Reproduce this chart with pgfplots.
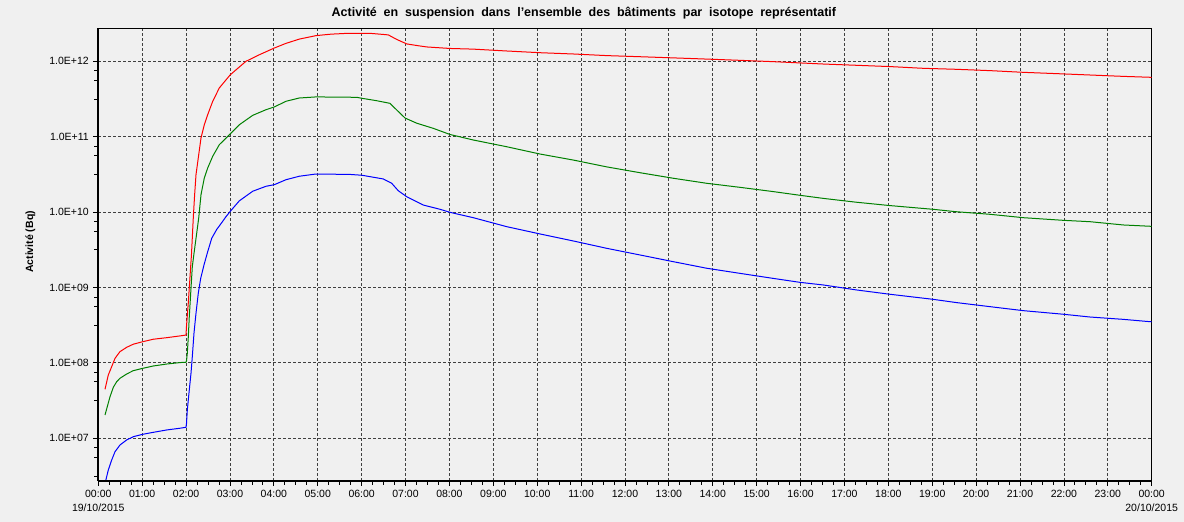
\documentclass[border=0pt]{standalone}
\usepackage{fontspec}
\setmainfont{Liberation Sans}
\usepackage{pgfplots}
\pgfplotsset{compat=1.18}
\usepackage{pgfplotstable}

\definecolor{fond}{HTML}{F0F0F0}
\definecolor{grille}{HTML}{404040}
\definecolor{rouge}{HTML}{FF0000}
\definecolor{vert}{HTML}{008000}
\definecolor{bleu}{HTML}{0000FF}

% t (heures depuis 19/10/2015 00:00), activite (Bq)
\pgfplotstableread{
t v
0.153 4.47e7
0.228 6.92e7
0.305 8.91e7
0.381 1.15e8
0.494 1.41e8
0.647 1.61e8
0.797 1.77e8
1.012 1.91e8
1.253 2.06e8
1.558 2.16e8
1.861 2.28e8
1.998 2.34e8
2.010 3.09e8
2.051 6.31e8
2.096 1.58e9
2.124 2.82e9
2.164 8.36e9
2.195 1.70e10
2.226 3.13e10
2.288 5.77e10
2.340 9.62e10
2.415 1.44e11
2.493 1.96e11
2.607 2.95e11
2.757 4.43e11
3.008 6.64e11
3.365 1.00e12
3.668 1.22e12
4.010 1.50e12
4.277 1.73e12
4.580 1.97e12
4.960 2.19e12
5.300 2.29e12
5.621 2.34e12
6.229 2.34e12
6.607 2.24e12
6.799 1.95e12
7.027 1.70e12
7.255 1.62e12
7.482 1.55e12
8.013 1.48e12
8.544 1.45e12
9.305 1.37e12
10.064 1.30e12
10.823 1.25e12
11.583 1.19e12
12.342 1.15e12
13.101 1.11e12
13.862 1.07e12
14.621 1.03e12
15.379 9.89e11
16.519 9.20e11
17.280 8.85e11
18.038 8.51e11
18.797 8.07e11
19.558 7.83e11
20.317 7.52e11
21.075 7.14e11
21.836 6.86e11
22.595 6.58e11
23.354 6.31e11
23.962 6.14e11
24.000 6.12e11
}\rouget

\pgfplotstableread{
t v
0.153 2.04e7
0.267 3.56e7
0.342 4.74e7
0.419 5.64e7
0.494 6.25e7
0.647 7.13e7
0.797 7.89e7
1.012 8.47e7
1.253 9.10e7
1.558 9.66e7
1.861 1.01e8
1.998 1.02e8
2.010 1.07e8
2.028 1.34e8
2.051 2.23e8
2.073 4.10e8
2.096 6.82e8
2.119 1.14e9
2.142 1.89e9
2.180 2.82e9
2.242 5.25e9
2.288 8.36e9
2.340 1.70e10
2.415 2.83e10
2.493 3.85e10
2.607 5.50e10
2.757 7.83e10
3.008 1.09e11
3.213 1.44e11
3.518 1.92e11
3.821 2.28e11
4.010 2.48e11
4.277 2.95e11
4.580 3.26e11
4.960 3.37e11
5.887 3.33e11
6.008 3.23e11
6.343 3.00e11
6.646 2.77e11
6.760 2.38e11
6.988 1.77e11
7.255 1.51e11
7.633 1.29e11
8.013 1.07e11
8.544 9.04e10
9.305 7.36e10
10.064 5.89e10
10.823 4.90e10
11.583 3.98e10
12.342 3.33e10
13.101 2.81e10
13.862 2.41e10
14.621 2.13e10
15.379 1.87e10
15.988 1.67e10
16.519 1.52e10
17.280 1.35e10
18.038 1.22e10
19.011 1.09e10
19.558 1.01e10
20.317 9.35e9
21.075 8.43e9
21.985 7.78e9
22.595 7.46e9
23.354 6.75e9
23.962 6.49e9
24.000 6.46e9
}\vertt

\pgfplotstableread{
t v
0.153 2.51e6
0.228 3.80e6
0.305 5.15e6
0.381 6.64e6
0.494 8.15e6
0.647 9.51e6
0.797 1.05e7
1.012 1.13e7
1.253 1.20e7
1.558 1.29e7
1.861 1.36e7
1.998 1.40e7
2.010 1.58e7
2.028 2.37e7
2.073 4.38e7
2.112 7.28e7
2.142 1.21e8
2.180 2.47e8
2.226 4.55e8
2.278 8.38e8
2.333 1.32e9
2.408 1.99e9
2.490 2.95e9
2.584 4.49e9
2.698 5.89e9
2.812 7.24e9
2.910 8.71e9
3.023 1.05e10
3.213 1.41e10
3.518 1.89e10
3.821 2.20e10
4.010 2.31e10
4.277 2.69e10
4.580 2.99e10
4.960 3.20e10
5.735 3.16e10
6.008 3.08e10
6.494 2.75e10
6.685 2.41e10
6.835 1.92e10
7.027 1.60e10
7.405 1.24e10
7.785 1.09e10
8.013 9.93e9
8.544 8.43e9
9.305 6.41e9
10.064 5.13e9
10.823 4.14e9
11.583 3.31e9
12.342 2.70e9
13.101 2.20e9
13.862 1.80e9
14.621 1.54e9
15.379 1.32e9
15.988 1.17e9
16.519 1.08e9
17.280 9.27e8
18.038 8.13e8
19.011 6.98e8
19.558 6.30e8
20.317 5.57e8
21.075 4.93e8
21.985 4.42e8
22.595 4.06e8
23.354 3.78e8
23.962 3.52e8
24.000 3.51e8
}\bleut

\begin{document}
\begin{tikzpicture}
\path[use as bounding box, fill=fond] (-98.3bp,-41bp) rectangle (1085.7bp,481bp);
\begin{axis}[
  at={(0,0)}, anchor=south west,
  scale only axis, width=1053.4bp, height=452.7bp,
  ymode=log,
  xmin=0, xmax=24,
  ymin=2.715e6, ymax=2.74e12,
  axis background/.style={fill=fond},
  axis line style={black, line width=1bp},
  tick align=outside, tick pos=left,
  xtick={0,1,...,24},
  xticklabels={{00:00\\19/10/2015},01:00,02:00,03:00,04:00,05:00,06:00,07:00,08:00,09:00,10:00,11:00,12:00,13:00,14:00,15:00,16:00,17:00,18:00,19:00,20:00,21:00,22:00,23:00,{00:00\\20/10/2015}},
  minor x tick num=3,
  ytick={1e7,1e8,1e9,1e10,1e11,1e12},
  yticklabels={1.0E+07,1.0E+08,1.0E+09,1.0E+10,1.0E+11,1.0E+12},
  minor ytick={3.162e6,5.623e6,7.499e6,3.162e7,5.623e7,7.499e7,3.162e8,5.623e8,7.499e8,3.162e9,5.623e9,7.499e9,3.162e10,5.623e10,7.499e10,3.162e11,5.623e11,7.499e11,3.162e12},
  major tick length=5bp, minor tick length=4bp,
  tick style={black, line width=0.8bp},
  xticklabel style={align=center, font=\fontsize{10.5bp}{13.5bp}\selectfont, yshift=-1bp},
  yticklabel style={font=\fontsize{10.5bp}{12bp}\selectfont, xshift=-1bp},
  grid=major,
  major grid style={grille, line width=0.8bp, dash pattern=on 3bp off 2bp},
  clip mode=individual,
]
\addplot[rouge, line width=1bp] table[x=t, y=v] {\rouget};
\addplot[vert, line width=1bp] table[x=t, y=v] {\vertt};
\addplot[bleu, line width=1bp] table[x=t, y=v] {\bleut};
\draw[black, line width=2.2bp] (rel axis cs:0,0) -- (rel axis cs:1,0);
\draw[black, line width=1.6bp] (rel axis cs:0,0) -- (rel axis cs:0,1);
\node[font=\bfseries\fontsize{12.5bp}{14bp}\selectfont] at ([yshift=15.5bp]rel axis cs:0.461,1) {\spaceskip=6.8bp Activité en suspension dans l'ensemble des bâtiments par isotope représentatif};
\node[font=\bfseries\fontsize{10.5bp}{12bp}\selectfont, rotate=90] at ([xshift=-68bp]rel axis cs:0,0.528) {Activité (Bq)};
\end{axis}
\end{tikzpicture}
\end{document}
